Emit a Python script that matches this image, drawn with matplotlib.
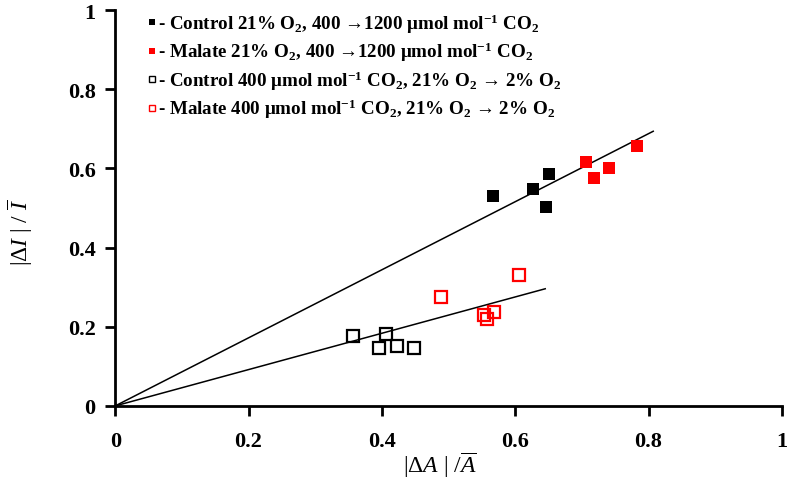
import matplotlib.pyplot as plt
from matplotlib.lines import Line2D

# Valores
ctrl_co2_x = [0.567, 0.627, 0.651, 0.646]
ctrl_co2_y = [0.530, 0.548, 0.586, 0.503]
mal_co2_x = [0.706, 0.718, 0.741, 0.783]
mal_co2_y = [0.616, 0.576, 0.601, 0.657]
ctrl_o2_x = [0.356, 0.396, 0.406, 0.422, 0.448]
ctrl_o2_y = [0.177, 0.146, 0.181, 0.152, 0.146]
mal_o2_x = [0.489, 0.553, 0.557, 0.568, 0.605]
mal_o2_y = [0.276, 0.230, 0.219, 0.237, 0.331]

# Rectas de ajuste por el origen
fit_co2_x = [0, 0.807]
fit_co2_y = [0, 0.694]
fit_o2_x = [0, 0.645]
fit_o2_y = [0, 0.296]

ticks = [0, 0.2, 0.4, 0.6, 0.8, 1]
tick_labels = ['0', '0.2', '0.4', '0.6', '0.8', '1']

labels = [
    r'- Control 21% O$_\mathbf{2}$, 400 →1200 μmol mol$^\mathbf{-1}$ CO$_\mathbf{2}$',
    r'- Malate 21% O$_\mathbf{2}$, 400 →1200 μmol mol$^\mathbf{-1}$ CO$_\mathbf{2}$',
    r'- Control 400 μmol mol$^\mathbf{-1}$ CO$_\mathbf{2}$, 21% O$_\mathbf{2}$ → 2% O$_\mathbf{2}$',
    r'- Malate 400 μmol mol$^\mathbf{-1}$ CO$_\mathbf{2}$, 21% O$_\mathbf{2}$ → 2% O$_\mathbf{2}$',
]

plt.rcParams['font.family'] = ['Liberation Serif', 'DejaVu Serif']
plt.rcParams['mathtext.fontset'] = 'custom'
plt.rcParams['mathtext.rm'] = 'Liberation Serif'
plt.rcParams['mathtext.it'] = 'Liberation Serif:italic'
plt.rcParams['mathtext.bf'] = 'Liberation Serif:bold'

fig = plt.figure(figsize=(7.89, 4.85), dpi=100)
ax = fig.add_axes([0.146, 0.161, 0.845, 0.816])

ax.plot(fit_co2_x, fit_co2_y, color='black', lw=1.1)
ax.plot(fit_o2_x, fit_o2_y, color='black', lw=1.1)

ms = 8.5
ax.plot(ctrl_co2_x, ctrl_co2_y, 's', color='black', ms=ms, mew=0)
ax.plot(mal_co2_x, mal_co2_y, 's', color='#ff0000', ms=ms, mew=0)
ax.plot(ctrl_o2_x, ctrl_o2_y, 's', mfc='none', mec='black', ms=ms, mew=1.6)
ax.plot(mal_o2_x, mal_o2_y, 's', mfc='none', mec='#ff0000', ms=ms, mew=1.6)

ax.set_xlim(0, 1)
ax.set_ylim(0, 1)
ax.set_xticks(ticks)
ax.set_xticklabels(tick_labels)
ax.set_yticks(ticks)
ax.set_yticklabels(tick_labels)
for lab in ax.get_xticklabels() + ax.get_yticklabels():
    lab.set_fontweight('bold')
    lab.set_fontsize(16)
ax.tick_params(axis='x', direction='out', length=7, width=2, pad=11)
ax.tick_params(axis='y', direction='out', length=7, width=2, pad=7)

for s in ['top', 'right']:
    ax.spines[s].set_visible(False)
for s in ['left', 'bottom']:
    ax.spines[s].set_linewidth(2)

ax.set_xlabel(r'$|\mathit{ΔA}\ |\ /\overline{\mathit{A}}$', fontsize=17)
ax.set_ylabel(r'$|\mathit{ΔI}\ |\ /\ \overline{\mathit{I}}$', fontsize=17)
ax.xaxis.set_label_coords(0.487, -0.11)
ax.yaxis.set_label_coords(-0.12, 0.44)

handles = [
    Line2D([], [], marker='s', ls='none', color='black', ms=5, mew=0),
    Line2D([], [], marker='s', ls='none', color='#ff0000', ms=5, mew=0),
    Line2D([], [], marker='s', ls='none', mfc='none', mec='black', ms=5, mew=1),
    Line2D([], [], marker='s', ls='none', mfc='none', mec='#ff0000', ms=5, mew=1),
]
ax.legend(handles, labels, loc='upper left', bbox_to_anchor=(0.022, 1.04),
          frameon=False, prop={'weight': 'bold', 'size': 13.7},
          handlelength=0.5, handletextpad=0.1, labelspacing=0.27)

fig.savefig('out.png', dpi=100)
